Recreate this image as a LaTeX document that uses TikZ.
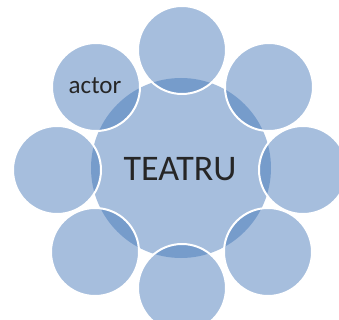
\documentclass[tikz,border=0pt]{standalone}
\usepackage{fontspec}
\setmainfont{Carlito}
\definecolor{petal}{RGB}{66,118,184}
\begin{document}
\begin{tikzpicture}[x=1pt,y=-1pt,
  petalstyle/.style={circle,minimum size=88pt,inner sep=0pt,fill=petal,fill opacity=0.47,draw=white,line width=2pt,text opacity=1},
  hubstyle/.style={circle,minimum size=180pt,inner sep=0pt,fill=petal,fill opacity=0.47,text opacity=1}]
\clip (0,0) rectangle (339,320);
\fill[white] (0,0) rectangle (339,320);
\node[hubstyle] (hub) at (181,168) {};
\node[petalstyle] (p1) at (182,50) {};
\node[petalstyle] (p2) at (269,87) {};
\node[petalstyle] (p3) at (303,170) {};
\node[petalstyle] (p4) at (268,252) {};
\node[petalstyle] (p5) at (182,288) {};
\node[petalstyle] (p6) at (95,252) {};
\node[petalstyle] (p7) at (57,170) {};
\node[petalstyle] (p8) at (96,87) {};
\node[font=\fontsize{36}{40}\selectfont,text=black!85] (lab) at (180,169) {TEATRU};
\node[font=\fontsize{25}{28}\selectfont,text=black!85] (act) at (95,86) {actor};
\end{tikzpicture}
\end{document}
